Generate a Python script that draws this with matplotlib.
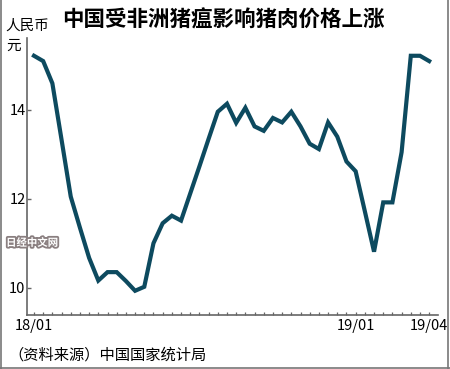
import matplotlib
matplotlib.use("Agg")
import matplotlib.pyplot as plt
import matplotlib.patheffects as pe
from matplotlib.lines import Line2D

plt.rcParams['font.family'] = ['Noto Sans CJK SC', 'DejaVu Sans']

title = "中国受非洲猪瘟影响猪肉价格上涨"
unit_label = "人民币"
unit_label2 = "元"
source = "（资料来源）中国国家统计局"
watermark = "日经中文网"

prices = [15.22, 15.10, 14.60, 13.33, 12.05, 11.35, 10.67, 10.16, 10.35, 10.35,
          10.15, 9.93, 10.02, 11.00, 11.45, 11.62, 11.51, 12.12, 12.73, 13.35,
          13.96, 14.14, 13.71, 14.05, 13.63, 13.53, 13.82, 13.72, 13.96, 13.63,
          13.24, 13.12, 13.72, 13.40, 12.84, 12.62, 11.72, 10.81, 11.92, 11.92,
          13.05, 15.22, 15.22, 15.10]
xtick_pos = [0, 35, 43]
xtick_labels = ["18/01", "19/01", "19/04"]
yticks = [10, 12, 14]

W, H = 450, 369
fig = plt.figure(figsize=(W / 100, H / 100), dpi=100)
ax = fig.add_axes([27 / W, 1 - 315 / H, (438 - 27) / W, (315 - 38) / H])

x = list(range(len(prices)))
ax.plot(x, prices, color="#0d4a5f", lw=3.0, solid_joinstyle="miter", zorder=3)

ax.set_xlim(-0.76, 43.96)
ax.set_ylim(9.385, 15.62)

for s in ["top", "right"]:
    ax.spines[s].set_visible(False)
for s in ["left", "bottom"]:
    ax.spines[s].set_color("#666666")
    ax.spines[s].set_linewidth(1.2)

ax.set_yticks(yticks)
ax.set_yticklabels([str(v) for v in yticks])
ax.tick_params(axis="y", direction="in", length=3, width=1, color="#666666",
               labelsize=10.5, pad=1)
ax.set_xticks(xtick_pos)
ax.set_xticklabels(xtick_labels)
ax.set_xticks(x, minor=True)
ax.tick_params(axis="x", which="both", direction="in", length=2.5, width=0.9,
               color="#666666", labelsize=10.5, pad=3)

fig.text(223 / W, 1 - 20 / H, title, ha="center", va="center",
         fontsize=15.5, fontweight="bold")
fig.text(27 / W, 1 - 26 / H, unit_label, ha="center", va="center", fontsize=10.5)
fig.text(14 / W, 1 - 46 / H, unit_label2, ha="center", va="center", fontsize=10.5)
fig.text(8 / W, 1 - 355 / H, source, ha="left", va="center", fontsize=11)

wm = fig.text(32 / W, 1 - 243 / H, watermark, ha="center", va="center",
              fontsize=7.5, fontweight="bold", color="white", zorder=10)
wm.set_path_effects([pe.withStroke(linewidth=2.6, foreground="#8a7f80")])

# frame lines (left, right, bottom)
fc = "#777777"
fig.add_artist(Line2D([1 / W, 1 / W], [0, 1], transform=fig.transFigure, color=fc, lw=1.2))
fig.add_artist(Line2D([447.5 / W, 447.5 / W], [0, 1], transform=fig.transFigure, color=fc, lw=1.2))
fig.add_artist(Line2D([0, 1], [1 / H, 1 / H], transform=fig.transFigure, color=fc, lw=1.2))

fig.savefig("out.png", dpi=100)
